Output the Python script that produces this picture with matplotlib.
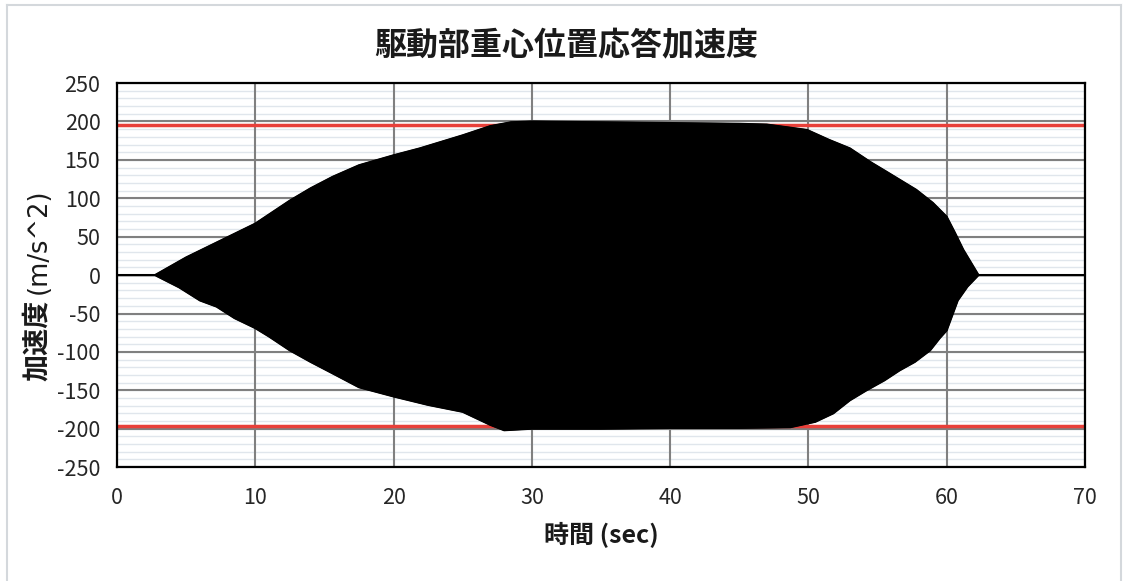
import matplotlib.pyplot as plt
from matplotlib.lines import Line2D

plt.rcParams['font.family'] = ['Noto Sans CJK JP', 'DejaVu Sans']
plt.rcParams['axes.unicode_minus'] = False

# envelope of the response
t_upper = [0, 2.75, 5, 7.5, 10, 12.5, 14, 15.6, 17.5, 20, 21.9, 25, 27, 28.5, 30,
           35, 40, 45, 47, 49.9, 51.5, 53, 54.5, 55.7, 57.8, 59, 60, 60.6, 61.2, 62.3, 70]
acc_upper = [0, 0, 23, 45, 67, 97, 113, 128, 143, 156, 165, 182, 194, 199, 200,
             199, 198, 197, 196, 189, 176, 165, 147, 134, 111, 94, 76, 55, 33, 0, 0]
t_lower = [0, 2.75, 4.5, 6, 7.2, 8.5, 10, 11, 12.5, 14, 15.6, 17.5, 20, 22.5, 25, 27, 28, 30,
           35, 40, 45, 48.7, 50.5, 51.8, 53, 54.2, 55.5, 56.6, 57.7, 58.8, 59.5, 60, 60.8,
           61.5, 62.3, 70]
acc_lower = [0, 0, -16, -33, -41, -56, -69, -80, -98, -113, -128, -146, -158, -169, -178, -195, -202, -200,
             -200, -199, -199, -198, -191, -180, -163, -150, -137, -124, -113, -98, -82, -72, -33,
             -15, 0, 0]
limit = 196

x_ticks = [0, 10, 20, 30, 40, 50, 60, 70]
y_ticks = [-250, -200, -150, -100, -50, 0, 50, 100, 150, 200, 250]
y_minor = range(-240, 250, 10)

fig = plt.figure(figsize=(11.25, 5.81), dpi=100)
ax = fig.add_axes([0.104, 0.196, 0.8604, 0.661])

ax.set_xlim(0, 70)
ax.set_ylim(-250, 250)
ax.set_xticks(x_ticks)
ax.set_yticks(y_ticks)

# grid: light minor lines, then grey major lines
for y in y_minor:
    ax.axhline(y, color='#e0e6ec', linewidth=1.0, zorder=0.5)
for y in y_ticks:
    ax.axhline(y, color='#808080', linewidth=1.5, zorder=1)
for x in x_ticks:
    ax.axvline(x, color='#808080', linewidth=1.5, zorder=1)

# limit lines
ax.axhline(limit, color='#e8403a', linewidth=2.5, zorder=2)
ax.axhline(-limit, color='#e8403a', linewidth=2.5, zorder=2)

# response (black envelope)
poly_x = t_upper + t_lower[::-1]
poly_y = acc_upper + acc_lower[::-1]
ax.fill(poly_x, poly_y, color='black', linewidth=1.0, zorder=3)
ax.plot(t_upper, acc_upper, color='black', linewidth=1.5, zorder=3)
ax.plot(t_lower, acc_lower, color='black', linewidth=1.5, zorder=3)

for s in ax.spines.values():
    s.set_color('black')
    s.set_linewidth(1.6)
    s.set_zorder(4)

ax.tick_params(length=0, labelsize=15.5, colors='#262626')
ax.tick_params(axis='x', pad=14)
ax.tick_params(axis='y', pad=12)

ax.set_xlabel('時間 (sec)', fontsize=18, fontweight='bold', labelpad=10, color='#1a1a1a')
fig.suptitle('駆動部重心位置応答加速度', fontsize=23, fontweight='bold',
             x=0.503, y=0.948, color='#1a1a1a')

# y label: bold kanji + regular unit
renderer = fig.canvas.get_renderer()
t1 = fig.text(0.033, 1 - 381 / 581, '加速度', rotation=90, ha='center', va='bottom',
              fontsize=19.5, fontweight='bold', color='#1a1a1a')
bb = t1.get_window_extent(renderer).transformed(fig.transFigure.inverted())
fig.text(0.034, bb.y1 + 0.01, '(m/s^2)', rotation=90, ha='center', va='bottom',
         fontsize=18.5, family='DejaVu Sans', color='#1a1a1a')

# outer frame
for xs, ys in [([0.0062, 0.0062], [0, 0.9914]),
               ([0.0062, 0.9965], [0.9914, 0.9914]),
               ([0.9965, 0.9965], [0, 0.9914])]:
    fig.add_artist(Line2D(xs, ys, color='#d4d8dc', linewidth=1.5))

fig.savefig('out.png', dpi=100)
